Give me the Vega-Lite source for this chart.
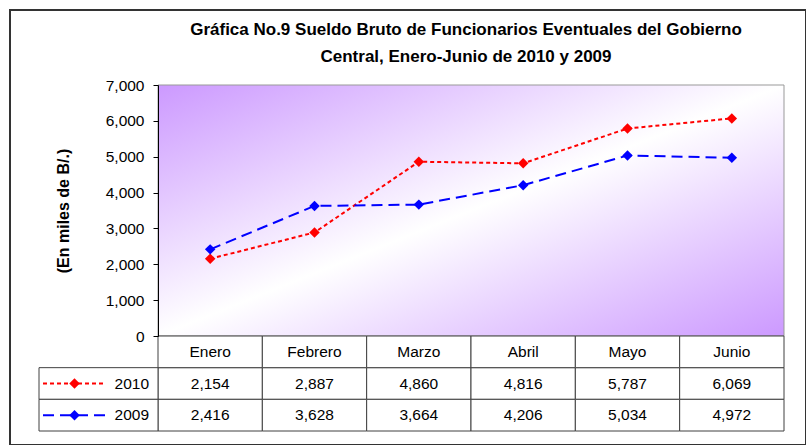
{
  "$schema": "https://vega.github.io/schema/vega-lite/v6.json",
  "width": 796,
  "height": 435,
  "autosize": {"type": "none"},
  "padding": {"left": 10, "top": 10, "right": 0, "bottom": 0},
  "background": "white",
  "config": {"font": "Liberation Sans", "view": {"stroke": "#333333", "strokeWidth": 2}},
  "title": {
    "text": ["Gráfica No.9 Sueldo Bruto de Funcionarios Eventuales del Gobierno", "Central, Enero-Junio de 2010 y 2009"],
    "anchor": "middle", "frame": "group", "fontSize": 17, "fontWeight": "bold", "font": "Liberation Sans",
    "color": "black", "lineHeight": 27, "baseline": "top", "offset": 0, "dx": 58, "dy": 56
  },
  "data": {"values": [
    {"mes": "Enero", "anio": "2010", "valor": 2154},
    {"mes": "Febrero", "anio": "2010", "valor": 2887},
    {"mes": "Marzo", "anio": "2010", "valor": 4860},
    {"mes": "Abril", "anio": "2010", "valor": 4816},
    {"mes": "Mayo", "anio": "2010", "valor": 5787},
    {"mes": "Junio", "anio": "2010", "valor": 6069},
    {"mes": "Enero", "anio": "2009", "valor": 2416},
    {"mes": "Febrero", "anio": "2009", "valor": 3628},
    {"mes": "Marzo", "anio": "2009", "valor": 3664},
    {"mes": "Abril", "anio": "2009", "valor": 4206},
    {"mes": "Mayo", "anio": "2009", "valor": 5034},
    {"mes": "Junio", "anio": "2009", "valor": 4972}
  ]},
  "layer": [
    {
      "data": {"values": [{"zona": "plot"}]},
      "mark": {"type": "rect", "stroke": "#999999", "strokeWidth": 1,
        "fill": {"gradient": "linear", "x1": 0, "y1": 0, "x2": 1, "y2": 1,
          "stops": [{"offset": 0, "color": "#CC99FF"}, {"offset": 0.5, "color": "#FFFFFF"}, {"offset": 1, "color": "#CC99FF"}]}},
      "encoding": {
        "x": {"datum": 0, "type": "quantitative", "scale": {"domain": [0, 1], "range": [148, 774]}, "axis": null},
        "x2": {"datum": 1},
        "y": {"datum": 0, "type": "quantitative", "scale": {"domain": [0, 7000], "range": [326, 75], "nice": false, "zero": false}, "axis": null},
        "y2": {"datum": 7000}
      }
    },
    {
      "mark": {"type": "rect", "fill": "white", "stroke": "#404040", "strokeWidth": 1},
      "encoding": {
        "x": {"field": "mes", "type": "nominal", "scale": {"type": "band", "domain": ["Enero", "Febrero", "Marzo", "Abril", "Mayo", "Junio"], "range": [148, 774], "paddingInner": 0, "paddingOuter": 0}, "axis": null},
        "y": {"field": "anio", "type": "nominal", "scale": {"type": "band", "domain": ["mes", "2010", "2009"], "range": [326, 421], "paddingInner": 0, "paddingOuter": 0}, "axis": null}
      }
    },
    {
      "transform": [{"filter": "datum.anio == '2010'"}],
      "mark": {"type": "rect", "fill": "white", "stroke": "#404040", "strokeWidth": 1},
      "encoding": {
        "x": {"field": "mes", "type": "nominal", "scale": {"type": "band", "domain": ["Enero", "Febrero", "Marzo", "Abril", "Mayo", "Junio"], "range": [148, 774], "paddingInner": 0, "paddingOuter": 0}, "axis": null},
        "y": {"datum": "mes", "type": "nominal", "scale": {"type": "band", "domain": ["mes", "2010", "2009"], "range": [326, 421], "paddingInner": 0, "paddingOuter": 0}, "axis": null}
      }
    },
    {
      "transform": [{"filter": "datum.anio == '2010'"}],
      "mark": {"type": "text", "fontSize": 15.5, "color": "black"},
      "encoding": {
        "x": {"field": "mes", "type": "nominal", "scale": {"type": "band", "domain": ["Enero", "Febrero", "Marzo", "Abril", "Mayo", "Junio"], "range": [148, 774], "paddingInner": 0, "paddingOuter": 0}, "axis": null},
        "y": {"datum": "mes", "type": "nominal", "scale": {"type": "band", "domain": ["mes", "2010", "2009"], "range": [326, 421], "paddingInner": 0, "paddingOuter": 0}, "axis": null},
        "text": {"field": "mes"}
      }
    },
    {
      "mark": {"type": "text", "fontSize": 15.5, "color": "black"},
      "encoding": {
        "x": {"field": "mes", "type": "nominal", "scale": {"type": "band", "domain": ["Enero", "Febrero", "Marzo", "Abril", "Mayo", "Junio"], "range": [148, 774], "paddingInner": 0, "paddingOuter": 0}, "axis": null},
        "y": {"field": "anio", "type": "nominal", "scale": {"type": "band", "domain": ["mes", "2010", "2009"], "range": [326, 421], "paddingInner": 0, "paddingOuter": 0}, "axis": null},
        "text": {"field": "valor", "type": "quantitative", "format": ",d"}
      }
    },
    {
      "transform": [{"filter": "datum.mes == 'Enero'"}],
      "mark": {"type": "rect", "fill": "white", "stroke": "#404040", "strokeWidth": 1},
      "encoding": {
        "x": {"datum": 0, "type": "quantitative", "scale": {"domain": [0, 1], "range": [29, 148]}, "axis": null},
        "x2": {"datum": 1},
        "y": {"field": "anio", "type": "nominal", "scale": {"type": "band", "domain": ["mes", "2010", "2009"], "range": [326, 421], "paddingInner": 0, "paddingOuter": 0}, "axis": null}
      }
    },
    {
      "transform": [{"filter": "datum.mes == 'Enero'"}],
      "mark": {"type": "text", "fontSize": 15.5, "color": "black", "align": "right", "dx": -9},
      "encoding": {
        "x": {"datum": 1, "type": "quantitative", "scale": {"domain": [0, 1], "range": [29, 148]}, "axis": null},
        "y": {"field": "anio", "type": "nominal", "scale": {"type": "band", "domain": ["mes", "2010", "2009"], "range": [326, 421], "paddingInner": 0, "paddingOuter": 0}, "axis": null},
        "text": {"field": "anio"}
      }
    },
    {
      "transform": [{"filter": "datum.mes == 'Enero'"}],
      "mark": {"type": "rule", "strokeWidth": 2},
      "encoding": {
        "x": {"datum": 0, "type": "quantitative", "scale": {"domain": [0, 1], "range": [33, 96]}, "axis": null},
        "x2": {"datum": 1},
        "y": {"field": "anio", "type": "nominal", "bandPosition": 0.5, "scale": {"type": "band", "domain": ["mes", "2010", "2009"], "range": [326, 421], "paddingInner": 0, "paddingOuter": 0}, "axis": null},
        "color": {"field": "anio", "type": "nominal", "scale": {"domain": ["2010", "2009"], "range": ["#FF0000", "#0000FF"]}, "legend": null},
        "strokeDash": {"field": "anio", "type": "nominal", "scale": {"domain": ["2010", "2009"], "range": [[4, 3], [11, 6]]}, "legend": null}
      }
    },
    {
      "transform": [{"filter": "datum.mes == 'Enero'"}],
      "mark": {"type": "point", "shape": "diamond", "filled": true, "size": 110, "opacity": 1},
      "encoding": {
        "x": {"datum": 0.5, "type": "quantitative", "scale": {"domain": [0, 1], "range": [33, 96]}, "axis": null},
        "y": {"field": "anio", "type": "nominal", "scale": {"type": "band", "domain": ["mes", "2010", "2009"], "range": [326, 421], "paddingInner": 0, "paddingOuter": 0}, "axis": null},
        "color": {"field": "anio", "type": "nominal", "scale": {"domain": ["2010", "2009"], "range": ["#FF0000", "#0000FF"]}, "legend": null}
      }
    },
    {
      "mark": {"type": "line", "strokeWidth": 2},
      "encoding": {
        "x": {"field": "mes", "type": "nominal", "scale": {"type": "point", "domain": ["Enero", "Febrero", "Marzo", "Abril", "Mayo", "Junio"], "range": [148, 774], "padding": 0.5}, "axis": null},
        "y": {"field": "valor", "type": "quantitative",
          "scale": {"domain": [0, 7000], "range": [326, 75], "nice": false, "zero": false},
          "axis": {"orient": "left", "offset": -148, "values": [0, 1000, 2000, 3000, 4000, 5000, 6000, 7000], "format": ",d",
            "labelFontSize": 15.5, "labelColor": "black", "labelFont": "Liberation Sans", "labelPadding": 9,
            "tickColor": "black", "tickSize": 5, "domainColor": "black", "grid": false, "zindex": 1,
            "title": "(En miles de B/.)", "titleFontSize": 16, "titleFontWeight": "bold", "titleColor": "black", "titleFont": "Liberation Sans", "titlePadding": 34}},
        "color": {"field": "anio", "type": "nominal", "scale": {"domain": ["2010", "2009"], "range": ["#FF0000", "#0000FF"]}, "legend": null},
        "strokeDash": {"field": "anio", "type": "nominal", "scale": {"domain": ["2010", "2009"], "range": [[4, 3], [11, 6]]}, "legend": null}
      }
    },
    {
      "mark": {"type": "point", "shape": "diamond", "filled": true, "size": 110, "opacity": 1},
      "encoding": {
        "x": {"field": "mes", "type": "nominal", "scale": {"type": "point", "domain": ["Enero", "Febrero", "Marzo", "Abril", "Mayo", "Junio"], "range": [148, 774], "padding": 0.5}, "axis": null},
        "y": {"field": "valor", "type": "quantitative", "scale": {"domain": [0, 7000], "range": [326, 75], "nice": false, "zero": false}, "axis": null},
        "color": {"field": "anio", "type": "nominal", "scale": {"domain": ["2010", "2009"], "range": ["#FF0000", "#0000FF"]}, "legend": null}
      }
    }
  ],
  "resolve": {"scale": {"x": "independent", "y": "independent"}}
}
